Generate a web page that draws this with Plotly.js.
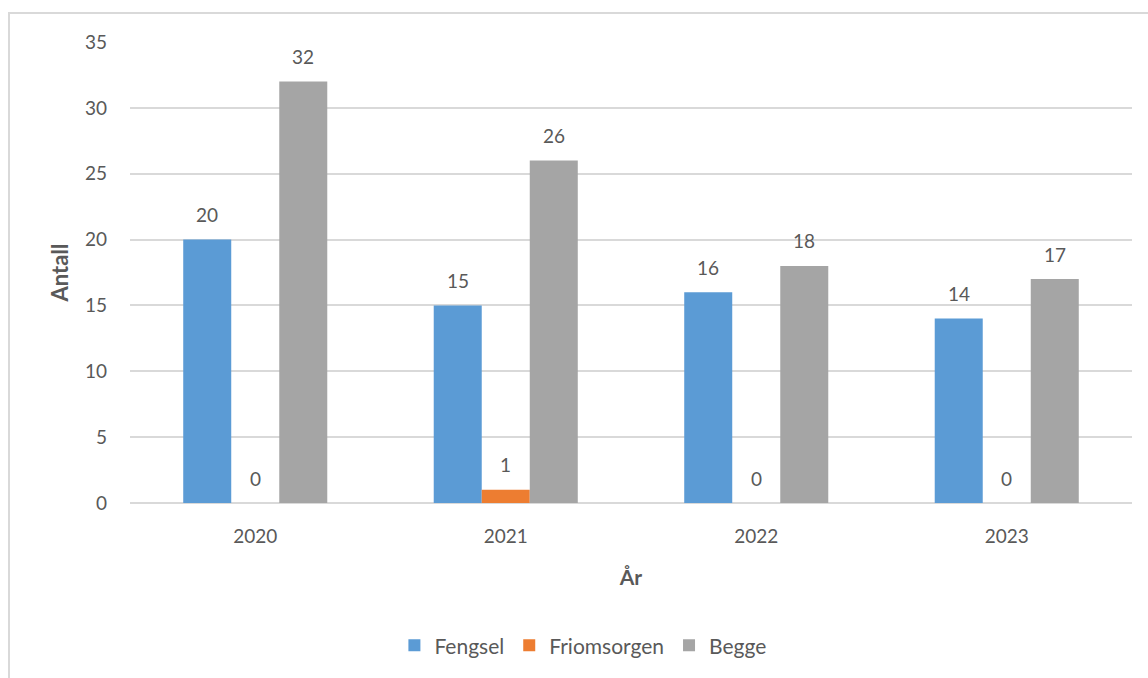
<!DOCTYPE html>
<html>
<head>
<meta charset="utf-8">
<script src="https://cdn.plot.ly/plotly-3.0.1.min.js"></script>
<style>
  html, body { margin: 0; padding: 0; background: #ffffff; }
  #wrap { position: relative; width: 1148px; height: 678px; overflow: hidden; }
  #frame { position: absolute; left: 8px; top: 12px; width: 1200px; height: 800px; border: 2px solid #d9d9d9; box-sizing: border-box; pointer-events: none; }
  #chart { position: absolute; left: 0; top: 0; width: 1148px; height: 678px; }
</style>
</head>
<body>
<div id="wrap">
  <div id="chart"></div>
  <div id="frame"></div>
</div>
<script>
const years = ["2020", "2021", "2022", "2023"];
const fengsel = [20, 15, 16, 14];
const friomsorgen = [0, 1, 0, 0];
const begge = [32, 26, 18, 17];
const seriesNames = ["Fengsel", "Friomsorgen", "Begge"];
const seriesColors = ["#5B9BD5", "#ED7D31", "#A5A5A5"];

const FONT = "Lato, 'Open Sans', sans-serif";
const GREY = "#595959";

const values = [fengsel, friomsorgen, begge];
const traces = values.map((v, i) => ({
  type: "bar",
  name: seriesNames[i],
  x: years,
  y: v,
  marker: { color: seriesColors[i] },
  hoverinfo: "x+y+name"
}));

// data labels: centered over each bar (category index), offset by one bar width per series
const BAR_PX = 48;
const annotations = [];
values.forEach((v, i) => {
  v.forEach((val, j) => {
    annotations.push({
      x: j,
      y: val,
      xref: "x",
      yref: "y",
      text: String(val),
      showarrow: false,
      xshift: (i - 1) * BAR_PX,
      yshift: 25,
      yanchor: "middle",
      font: { family: FONT, size: 19, color: GREY }
    });
  });
});

const layout = {
  width: 1148,
  height: 678,
  paper_bgcolor: "#ffffff",
  plot_bgcolor: "#ffffff",
  margin: { l: 130, r: 16, t: 42, b: 173 },
  barmode: "group",
  bargap: 0.425,
  bargroupgap: 0,
  font: { family: FONT, size: 19, color: GREY },
  annotations: annotations,
  xaxis: {
    type: "category",
    categoryorder: "array",
    categoryarray: years,
    range: [-0.5, years.length - 0.5],
    showgrid: false,
    showline: false,
    zeroline: false,
    ticks: "",
    ticklabelstandoff: 20,
    tickfont: { family: FONT, size: 19, color: GREY },
    title: { text: "<b>År</b>", font: { family: FONT, size: 21, color: GREY }, standoff: 24 }
  },
  yaxis: {
    range: [0, 35],
    dtick: 5,
    tick0: 0,
    showgrid: true,
    gridcolor: "#d9d9d9",
    gridwidth: 2,
    zeroline: true,
    zerolinecolor: "#d9d9d9",
    zerolinewidth: 2,
    showline: false,
    ticks: "",
    ticklabelstandoff: 22,
    tickfont: { family: FONT, size: 19, color: GREY },
    title: { text: "<b>Antall</b>", font: { family: FONT, size: 22, color: GREY }, standoff: 10 }
  },
  legend: {
    orientation: "h",
    x: 0.452,
    xanchor: "center",
    y: -0.265,
    yanchor: "top",
    font: { family: FONT, size: 21, color: GREY },
    traceorder: "normal"
  },
  showlegend: true
};

Plotly.newPlot("chart", traces, layout, { displayModeBar: false, staticPlot: true });
</script>
</body>
</html>
